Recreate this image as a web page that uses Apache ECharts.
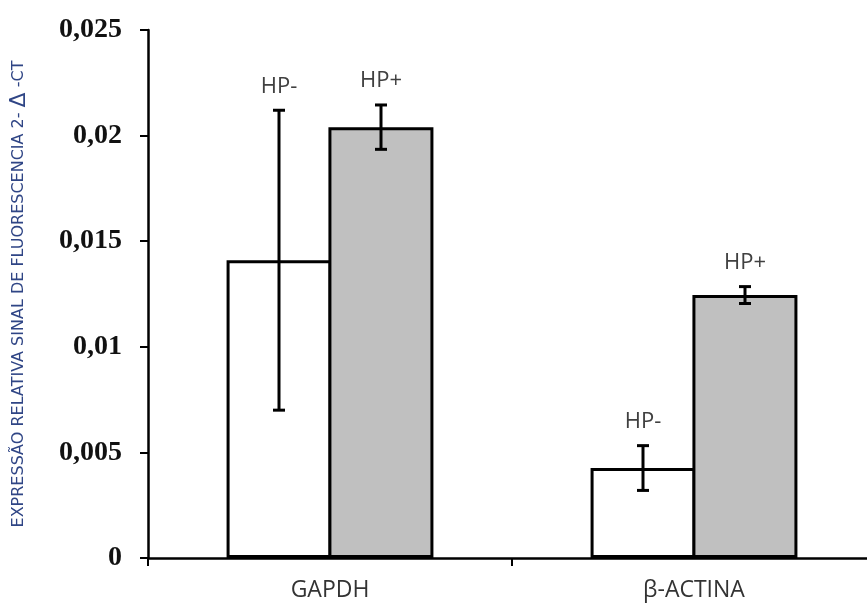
<!DOCTYPE html>
<html>
<head>
<meta charset="utf-8">
<script src="https://cdn.jsdelivr.net/npm/echarts@6/dist/echarts.min.js"></script>
<style>
  html, body { margin: 0; padding: 0; background: #fff; }
  #panel { width: 867px; height: 604px; }
</style>
</head>
<body>
<div id="panel"></div>
<script>
const categories = ['GAPDH', 'β-ACTINA'];
const hpMinus = [0.0141, 0.00426];
const hpMinusErr = [0.0071, 0.00106];
const hpPlus = [0.0204, 0.01245];
const hpPlusErr = [0.00105, 0.0004];
const seriesNames = ['HP-', 'HP+'];
const yTicks = { min: 0, max: 0.025, interval: 0.005 };

const BAR_W = 105;

const myChart = echarts.init(document.getElementById('panel'));

// error bar + HP label, side = -1 (left bar) or 1 (right bar)
const errorSeries = (values, errs, name, side) => ({
  type: 'custom',
  name: name,
  z: 5,
  data: values.map((v, i) => [i, v, errs[i]]),
  renderItem: function (params, api) {
    const i = api.value(0);
    const v = api.value(1);
    const e = api.value(2);
    const hi = api.coord([i, v + e]);
    const lo = api.coord([i, v - e]);
    const x = hi[0] + side * (BAR_W - 3) / 2;
    const cap = 6;
    const style = { stroke: '#000', lineWidth: 3 };
    return {
      type: 'group',
      children: [
        { type: 'line', shape: { x1: x, y1: hi[1], x2: x, y2: lo[1] }, style },
        { type: 'line', shape: { x1: x - cap, y1: hi[1], x2: x + cap, y2: hi[1] }, style },
        { type: 'line', shape: { x1: x - cap, y1: lo[1], x2: x + cap, y2: lo[1] }, style },
        {
          type: 'text',
          style: {
            x: x, y: hi[1] - 13,
            text: name,
            align: 'center', verticalAlign: 'bottom',
            font: '22px "Open Sans"', fill: '#404040'
          }
        }
      ]
    };
  }
});

const option = {
  backgroundColor: '#fff',
  animation: false,
  grid: { left: 148, top: 30, width: 728, height: 528, outerBoundsMode: 'none', containLabel: false },
  xAxis: {
    type: 'category',
    data: categories,
    axisLine: { lineStyle: { color: '#000', width: 2.5 } },
    axisTick: { show: true, length: 8, lineStyle: { color: '#000', width: 2 } },
    axisLabel: { color: '#333', fontFamily: 'Open Sans', fontSize: 23, margin: 21 }
  },
  yAxis: {
    type: 'value',
    min: yTicks.min,
    max: yTicks.max,
    interval: yTicks.interval,
    name: 'EXPRESSÃO RELATIVA SINAL DE FLUORESCENCIA 2- {d|Δ} -CT',
    nameLocation: 'middle',
    nameGap: 118,
    nameRotate: 90,
    nameTextStyle: {
      color: '#2f4585', fontFamily: 'DejaVu Sans', fontSize: 16,
      rich: { d: { fontSize: 22, color: '#2f4585', fontFamily: 'DejaVu Sans' } }
    },
    splitLine: { show: false },
    axisLine: { show: true, lineStyle: { color: '#000', width: 2.5 } },
    axisTick: { show: true, length: 8, lineStyle: { color: '#000', width: 2 } },
    axisLabel: {
      color: '#111', fontFamily: 'Liberation Serif', fontWeight: 'bold', fontSize: 28, margin: 26,
      formatter: v => String(+v.toFixed(3)).replace('.', ',')
    }
  },
  series: [
    {
      name: seriesNames[0], type: 'bar', data: hpMinus, barWidth: BAR_W, barGap: '-3%',
      itemStyle: { color: '#fff', borderColor: '#000', borderWidth: 3 }
    },
    {
      name: seriesNames[1], type: 'bar', data: hpPlus, barWidth: BAR_W, barGap: '-3%',
      itemStyle: { color: '#c0c0c0', borderColor: '#000', borderWidth: 3 }
    },
    errorSeries(hpMinus, hpMinusErr, seriesNames[0], -1),
    errorSeries(hpPlus, hpPlusErr, seriesNames[1], 1)
  ]
};
myChart.setOption(option);
</script>
</body>
</html>
